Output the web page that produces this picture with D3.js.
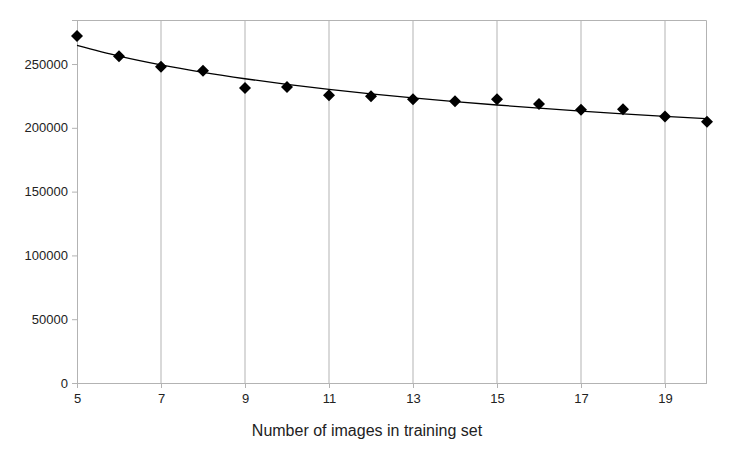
<!DOCTYPE html>
<html>
<head>
<meta charset="utf-8">
<script src="https://cdn.jsdelivr.net/npm/d3@7"></script>
<style>
  body { margin: 0; background: #fff; }
  text { font-family: "Liberation Sans", Arial, sans-serif; fill: #222; }
</style>
</head>
<body>
<div id="chart"></div>
<script>
// data
const imageCounts = [5, 6, 7, 8, 9, 10, 11, 12, 13, 14, 15, 16, 17, 18, 19, 20]
const scores = [272000, 256000, 247800, 244800, 231300, 231900, 225600, 224800, 222400, 220900, 222300, 218600, 214100, 214600, 208900, 204700]
const xTicks = [5, 7, 9, 11, 13, 15, 17, 19]
const yTicks = [0, 50000, 100000, 150000, 200000, 250000]
const xTitle = "Number of images in training set"

const width = 738, height = 461
const margin = { top: 20, right: 31, bottom: 78, left: 77 }

const svg = d3.select("#chart").append("svg")
    .attr("width", width)
    .attr("height", height)

const x = d3.scaleLinear().domain([5, 20]).range([margin.left, width - margin.right])
const y = d3.scaleLinear().domain([0, 284500]).range([height - margin.bottom, margin.top])

const gridColor = "#b3b3b3"

// vertical grid lines
svg.append("g")
    .selectAll("line")
    .data(xTicks.slice(1))
    .enter().append("line")
    .attr("x1", d => x(d)).attr("x2", d => x(d))
    .attr("y1", y.range()[1]).attr("y2", y.range()[0])
    .attr("stroke", gridColor)

// frame top + right
svg.append("path")
    .attr("d", `M${x.range()[0]},${y.range()[1] + 0.5}H${x.range()[1] - 0.5}V${y.range()[0]}`)
    .attr("fill", "none")
    .attr("stroke", gridColor)

// axes
const xAxis = svg.append("g")
    .attr("transform", `translate(0,${y.range()[0]})`)
    .call(d3.axisBottom(x).tickValues(xTicks).tickSize(5).tickPadding(6).tickFormat(d3.format("d")))
const yAxis = svg.append("g")
    .attr("transform", `translate(${x.range()[0]},0)`)
    .call(d3.axisLeft(y).tickValues(yTicks).tickSize(5).tickPadding(4).tickFormat(d3.format("d")))

for (const ax of [xAxis, yAxis]) {
    ax.select(".domain").attr("stroke", gridColor)
    ax.selectAll(".tick line").attr("stroke", gridColor)
    ax.selectAll("text").attr("font-size", 13).attr("font-family", '"Liberation Sans", Arial, sans-serif').attr("fill", "#222")
}
xAxis.select(".domain").attr("d", `M${x.range()[0]},0.5H${x.range()[1]}`)

svg.append("text")
    .attr("x", 367)
    .attr("y", 436)
    .attr("text-anchor", "middle")
    .attr("font-size", 16)
    .text(xTitle)

// power trend line fitted to the points (least squares on logs)
const lx = imageCounts.map(Math.log), ly = scores.map(Math.log)
const mx = d3.mean(lx), my = d3.mean(ly)
const b = d3.sum(lx, (v, i) => (v - mx) * (ly[i] - my)) / d3.sum(lx, v => (v - mx) ** 2)
const a = Math.exp(my - b * mx)
const trend = imageCounts.map(v => [v, a * Math.pow(v, b)])

svg.append("path")
    .datum(trend)
    .attr("fill", "none")
    .attr("stroke", "#000")
    .attr("stroke-width", 1.3)
    .attr("d", d3.line().x(d => x(d[0])).y(d => y(d[1])).curve(d3.curveMonotoneX))

// diamond markers
svg.append("g")
    .selectAll("path")
    .data(imageCounts)
    .enter().append("path")
    .attr("transform", (d, i) => `translate(${x(d)},${y(scores[i])})`)
    .attr("d", "M0,-6L6,0L0,6L-6,0Z")
    .attr("fill", "#000")
</script>
</body>
</html>
